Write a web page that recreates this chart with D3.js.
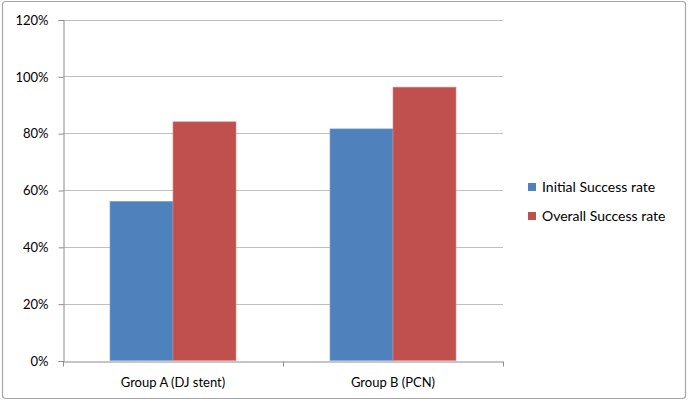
<!DOCTYPE html>
<html>
<head>
<meta charset="utf-8">
<script src="https://cdn.jsdelivr.net/npm/d3@7"></script>
<style>
  body { margin: 0; background: #fff; }
  text { font-family: Lato, "Open Sans", sans-serif; fill: #000; }
</style>
</head>
<body>
<div id="chart"></div>
<script>
// data
const groups = ["Group A (DJ stent)", "Group B (PCN)"];
const seriesNames = ["Initial Success rate", "Overall Success rate"];
const initialRate = [56, 81.5];
const overallRate = [84, 96.2];
const yTicks = [0, 20, 40, 60, 80, 100, 120];
const colors = ["#4F81BD", "#C0504D"];

const width = 688, height = 403;
const margin = {left: 63, right: 185, top: 19.5, bottom: 42.5};

const svg = d3.select("#chart").append("svg")
    .attr("width", width)
    .attr("height", height);

// chart frame
svg.append("rect")
    .attr("x", 2.5).attr("y", 1.5)
    .attr("width", 683).attr("height", 397)
    .attr("rx", 3)
    .attr("fill", "#fff")
    .attr("stroke", "#a6a6a6")
    .attr("stroke-width", 1.2);

const x0 = d3.scaleBand()
    .domain(groups)
    .range([margin.left, width - margin.right])
    .paddingInner(0)
    .paddingOuter(0);

const x1 = d3.scaleBand()
    .domain(seriesNames)
    .range([0, x0.bandwidth()])
    .paddingOuter(0.746)
    .paddingInner(0);

const y = d3.scaleLinear()
    .domain([0, 120])
    .range([height - margin.bottom, margin.top]);

// gridlines
svg.append("g")
    .selectAll("line")
    .data(yTicks.filter(d => d > 0))
    .join("line")
    .attr("x1", margin.left)
    .attr("x2", width - margin.right)
    .attr("y1", d => Math.round(y(d)) + 0.5)
    .attr("y2", d => Math.round(y(d)) + 0.5)
    .attr("stroke", "#bfbfbf")
    .attr("stroke-width", 1);

// bars
let rows = groups.map((g, i) => ({group: g, values: [initialRate[i], overallRate[i]]}));

svg.append("g")
    .selectAll("g")
    .data(rows)
    .join("g")
    .attr("transform", d => "translate(" + x0(d.group) + ",0)")
    .selectAll("rect")
    .data(d => d.values.map((v, j) => ({key: seriesNames[j], value: v, idx: j})))
    .join("rect")
    .attr("x", d => x1(d.key))
    .attr("width", x1.bandwidth())
    .attr("y", d => y(d.value))
    .attr("height", d => y(0) - y(d.value))
    .attr("fill", d => colors[d.idx])
    .attr("stroke", d => d.idx == 0 ? "#7aa0d0" : "#d98a88")
    .attr("stroke-width", 0.6);

// y axis
let yAxis = d3.axisLeft(y)
    .tickValues(yTicks)
    .tickSize(5)
    .tickPadding(10)
    .tickFormat(d => d + "%");

let yg = svg.append("g")
    .attr("transform", "translate(" + (margin.left + 0.5) + ",0.5)")
    .call(yAxis);
yg.selectAll("path, line").attr("stroke", "#8c8c8c");
yg.selectAll("text").style("font-size", "13px");

// x axis
let xAxis = d3.axisBottom(x0)
    .tickSize(0)
    .tickPadding(16);

let xg = svg.append("g")
    .attr("transform", "translate(0," + (Math.round(y(0)) + 0.5) + ")")
    .call(xAxis);
xg.select("path").attr("stroke", "#8c8c8c");
xg.selectAll("text").style("font-size", "13px");

// category boundary ticks
let bounds = [margin.left, x0(groups[1]), width - margin.right];
xg.selectAll(".bound")
    .data(bounds)
    .join("line")
    .attr("class", "bound")
    .attr("x1", d => Math.round(d) + 0.5)
    .attr("x2", d => Math.round(d) + 0.5)
    .attr("y1", 0)
    .attr("y2", 5)
    .attr("stroke", "#8c8c8c");

// legend
let legend = svg.append("g")
    .attr("transform", "translate(528,183)");

let items = legend.selectAll("g")
    .data(seriesNames)
    .join("g")
    .attr("transform", (d, i) => "translate(0," + (i * 29) + ")");

items.append("rect")
    .attr("width", 8)
    .attr("height", 8)
    .attr("fill", (d, i) => colors[i]);

items.append("text")
    .attr("x", 14)
    .attr("y", 4)
    .attr("dy", "0.35em")
    .style("font-size", "14px")
    .text(d => d);
</script>
</body>
</html>
